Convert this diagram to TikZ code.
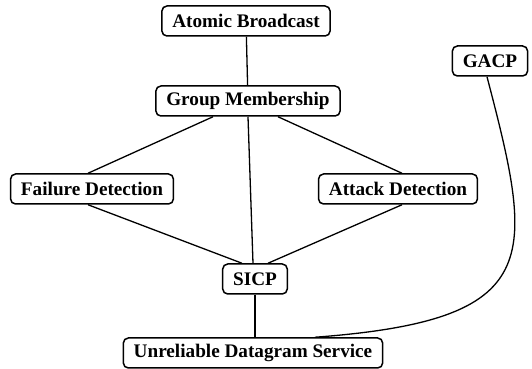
\documentclass[tikz,border=0pt]{standalone}
\usepackage{fontspec}
\setmainfont{Liberation Serif}
\usepackage{tikz}

\tikzset{layer/.style={draw, line width=0.75pt, rounded corners=2.5pt, inner xsep=5.2pt, inner ysep=0pt,
  minimum height=15pt, font=\fontsize{9.6}{11}\selectfont\bfseries}}

\begin{document}
\begin{tikzpicture}[x=0.5pt,y=-0.5pt]
\useasboundingbox (0,0) rectangle (532,369);
\node[layer] (ab) at (246,21) {Atomic Broadcast};
\node[layer] (gm) at (248,101) {Group Membership};
\node[layer] (gacp) at (490,61) {GACP};
\node[layer] (fd) at (92,189) {Failure Detection};
\node[layer] (ad) at (398,189) {Attack Detection};
\node[layer] (sicp) at (255,279) {SICP};
\node[layer] (uds) at (253,353) {Unreliable Datagram Service};
\draw[line width=0.65pt] (ab) -- (gm);
\draw[line width=0.65pt] ([xshift=-17.5pt]gm.south) -- ([xshift=-2pt]fd.north);
\draw[line width=0.65pt] ([xshift=15pt]gm.south) -- ([xshift=2pt]ad.north);
\draw[line width=0.65pt] (gm.south) -- ([xshift=-1pt]sicp.north);
\draw[line width=0.65pt] ([xshift=-2pt]fd.south) -- ([xshift=-6.5pt]sicp.north);
\draw[line width=0.65pt] ([xshift=2pt]ad.south) -- ([xshift=6.5pt]sicp.north);
\draw[line width=0.65pt] (sicp) -- (sicp |- uds.north);
\draw[line width=0.65pt] ([xshift=-1.5pt]gacp.south) .. controls (535,260) and (545,320) .. ([xshift=31pt]uds.north);
\end{tikzpicture}
\end{document}
